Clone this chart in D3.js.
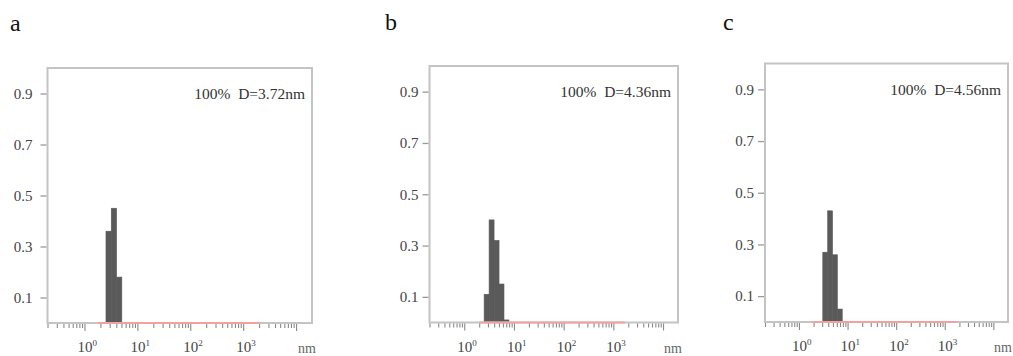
<!DOCTYPE html>
<html>
<head>
<meta charset="utf-8">
<script src="https://cdn.jsdelivr.net/npm/d3@7/dist/d3.min.js"></script>
<style>
  html, body { margin: 0; padding: 0; background: #fff; }
  svg { display: block; }
</style>
</head>
<body>
<svg id="chart" width="1013" height="356"></svg>
<script>
// Particle size distributions (fraction vs. hydrodynamic diameter, nm)
const panelLetters = ["a", "b", "c"];
const meanDiameters = ["3.72", "4.36", "4.56"];
const populationShare = ["100%", "100%", "100%"];

// bin centre diameters (nm) and fractions for each sample
const sizesA = [2.86, 3.60, 4.53];
const fractionA = [0.36, 0.45, 0.18];
const sizesB = [2.82, 3.55, 4.47, 5.62, 7.08];
const fractionB = [0.11, 0.40, 0.32, 0.15, 0.01];
const sizesC = [3.47, 4.37, 5.50, 6.92];
const fractionC = [0.27, 0.43, 0.26, 0.05];

// measured size range (nm) where the distribution curve sits on zero
const curveRangeA = [1.8, 2000];
const curveRangeB = [2.0, 1700];
const curveRangeC = [1.9, 1750];

const yTickValues = [0.1, 0.3, 0.5, 0.7, 0.9];
const xMajorTicks = [1, 10, 100, 1000, 10000];
const xLabelExponents = [0, 1, 2, 3];
const xDomain = [0.2, 20000];
const yDomain = [0, 1];
const xUnit = "nm";

const FONT = "'Liberation Serif', 'Times New Roman', 'DejaVu Serif', serif";

const series = [
  { sizes: sizesA, fraction: fractionA, curve: curveRangeA },
  { sizes: sizesB, fraction: fractionB, curve: curveRangeB },
  { sizes: sizesC, fraction: fractionC, curve: curveRangeC }
];

// frame geometry of the three panels
const layout = [
  { left: 47.5, right: 312, top: 68, bottom: 323, letterX: 10, letterY: 31, yPad: 8 },
  { left: 429.5, right: 678, top: 66, bottom: 322.5, letterX: 385, letterY: 30, yPad: 4 },
  { left: 765, right: 1008, top: 63.5, bottom: 322, letterX: 723, letterY: 30, yPad: 4 }
];

const binHalfWidth = 0.05; // half bin width in decades
const svg = d3.select("#chart").attr("font-family", FONT);

const minorTicks = [];
for (let e = -1; e <= 3; e++) {
  for (let m = 1; m <= 9; m++) {
    const v = m * Math.pow(10, e);
    if (v >= xDomain[0] - 1e-9 && v <= xDomain[1]) minorTicks.push(+v.toPrecision(6));
  }
}
minorTicks.push(10000);

series.forEach((s, i) => {
  const L = layout[i];
  const x = d3.scaleLog().domain(xDomain).range([L.left, L.right]);
  const y = d3.scaleLinear().domain(yDomain).range([L.bottom, L.top]);
  const g = svg.append("g");

  // panel letter
  g.append("text")
    .attr("x", L.letterX).attr("y", L.letterY)
    .attr("font-family", FONT)
    .attr("font-size", 24).attr("fill", "#111")
    .text(panelLetters[i]);

  // histogram bars
  g.selectAll("rect.bar")
    .data(s.sizes.map((d, k) => ({ size: d, value: s.fraction[k] })))
    .join("rect")
    .attr("class", "bar")
    .attr("x", d => x(d.size * Math.pow(10, -binHalfWidth)))
    .attr("width", d => x(d.size * Math.pow(10, binHalfWidth)) - x(d.size * Math.pow(10, -binHalfWidth)))
    .attr("y", d => y(d.value))
    .attr("height", d => y(0) - y(d.value))
    .attr("fill", "#5a5a5a")
    .attr("stroke", "#5a5a5a").attr("stroke-width", 0.6);

  // frame
  g.append("rect")
    .attr("x", L.left).attr("y", L.top)
    .attr("width", L.right - L.left).attr("height", L.bottom - L.top)
    .attr("fill", "none").attr("stroke", "#c4c4c4").attr("stroke-width", 2);

  // zero-level distribution curve, drawn over the frame's bottom edge
  g.append("line")
    .attr("x1", x(s.curve[0])).attr("x2", x(s.curve[1]))
    .attr("y1", y(0)).attr("y2", y(0))
    .attr("stroke", "#f3a0a0").attr("stroke-width", 1.8);

  // y axis
  const yAxis = d3.axisLeft(y).tickValues(yTickValues).tickSize(6).tickPadding(L.yPad)
    .tickFormat(d3.format(".1f"));
  const ya = g.append("g").attr("transform", `translate(${L.left - 1},0)`).call(yAxis)
    .attr("font-family", FONT);
  ya.select(".domain").remove();
  ya.selectAll(".tick line").attr("stroke", "#9a9a9a").attr("stroke-width", 1.3);
  ya.selectAll(".tick text")
    .attr("font-family", FONT)
    .attr("font-size", 15).attr("fill", "#444");

  // x axis (log) ticks
  const xAxis = d3.axisBottom(x).tickValues(minorTicks).tickSize(4).tickFormat("");
  const xa = g.append("g").attr("transform", `translate(0,${L.bottom + 1})`).call(xAxis);
  xa.select(".domain").remove();
  xa.selectAll(".tick line")
    .attr("stroke", "#8a8a8a").attr("stroke-width", 1.1)
    .attr("y2", d => xMajorTicks.includes(d) ? 7 : 4);

  // decade labels 10^n
  const lab = g.selectAll("text.xlab")
    .data(xLabelExponents)
    .join("text")
    .attr("class", "xlab")
    .attr("x", d => x(Math.pow(10, d)) - 7)
    .attr("y", L.bottom + 29)
    .attr("font-family", FONT)
    .attr("font-size", 15).attr("fill", "#444");
  lab.append("tspan").text("10");
  lab.append("tspan").attr("dy", -6).attr("font-size", 9).text(d => d);

  // unit label
  g.append("text")
    .attr("x", L.right - 14).attr("y", L.bottom + 30)
    .attr("font-family", FONT)
    .attr("font-size", 14).attr("fill", "#666")
    .text(xUnit);

  // annotation
  g.append("text")
    .attr("x", L.right - 7).attr("y", L.top + 31)
    .attr("text-anchor", "end")
    .attr("font-family", FONT)
    .attr("font-size", 15.5).attr("fill", "#333")
    .attr("xml:space", "preserve")
    .text(`${populationShare[i]}  D=${meanDiameters[i]}nm`);
});
</script>
</body>
</html>
